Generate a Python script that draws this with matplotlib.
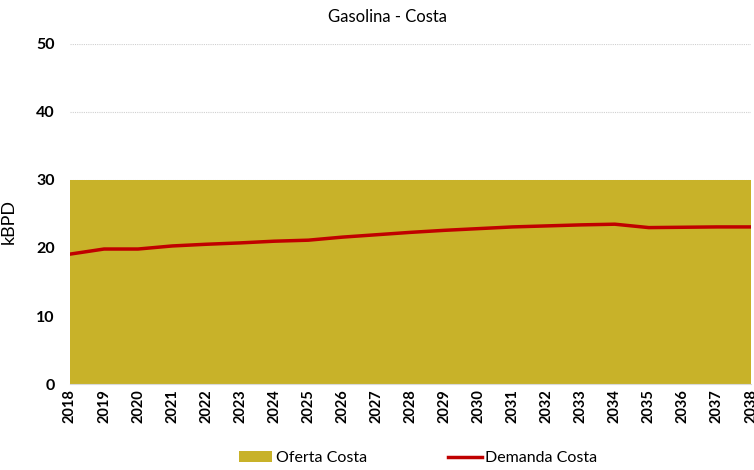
import matplotlib
matplotlib.use("Agg")
import matplotlib.pyplot as plt

years = list(range(2018, 2039))
oferta = [30] * 21
demanda = [19.1, 19.85, 19.85, 20.3, 20.55, 20.75, 21.0, 21.15, 21.6, 21.95, 22.3,
           22.6, 22.85, 23.1, 23.25, 23.4, 23.5, 23.0, 23.05, 23.1, 23.1]
yticks = [0, 10, 20, 30, 40, 50]

plt.rcParams['font.family'] = ['Lato', 'DejaVu Sans']

fig = plt.figure(figsize=(7.54, 4.70), dpi=100)
ax = fig.add_axes([70/754, (470-384)/470, (751-70)/754, (384-44)/470])

ax.fill_between(years, 0, oferta, color='#C8B229', linewidth=0, label='Oferta Costa', zorder=2)
ax.plot(years, demanda, color='#C00000', linewidth=2.5, label='Demanda Costa', zorder=3)

ax.set_xlim(2018, 2038)
ax.set_ylim(0, 50)
ax.set_yticks(yticks)
ax.set_xticks(years)
ax.set_xticklabels([str(y) for y in years], rotation=90, fontsize=10.5, fontweight='bold')
ax.set_yticklabels([str(v) for v in yticks], fontsize=11.5, fontweight='bold')
ax.yaxis.grid(True, linestyle=(0, (1, 1)), color='#D0D0D0', linewidth=0.8, zorder=1)
ax.set_axisbelow(True)
for s in ['top', 'right', 'left']:
    ax.spines[s].set_visible(False)
ax.spines['bottom'].set_color('#D9D9D9')
ax.tick_params(axis='both', length=0, pad=4)
ax.tick_params(axis='y', pad=11)
ax.set_ylabel('kBPD', fontsize=13)
ax.yaxis.set_label_coords(-0.078, (384-222)/340)
fig.text(388/754, 1 - 17/470, 'Gasolina - Costa', fontsize=12, ha='center', va='center')

fig.legend(loc='center', bbox_to_anchor=(418/754, 12/470), ncol=2, frameon=False,
           fontsize=11.5, handlelength=2.1, columnspacing=5.1, handletextpad=0.2)

fig.savefig('out.png', dpi=100)
